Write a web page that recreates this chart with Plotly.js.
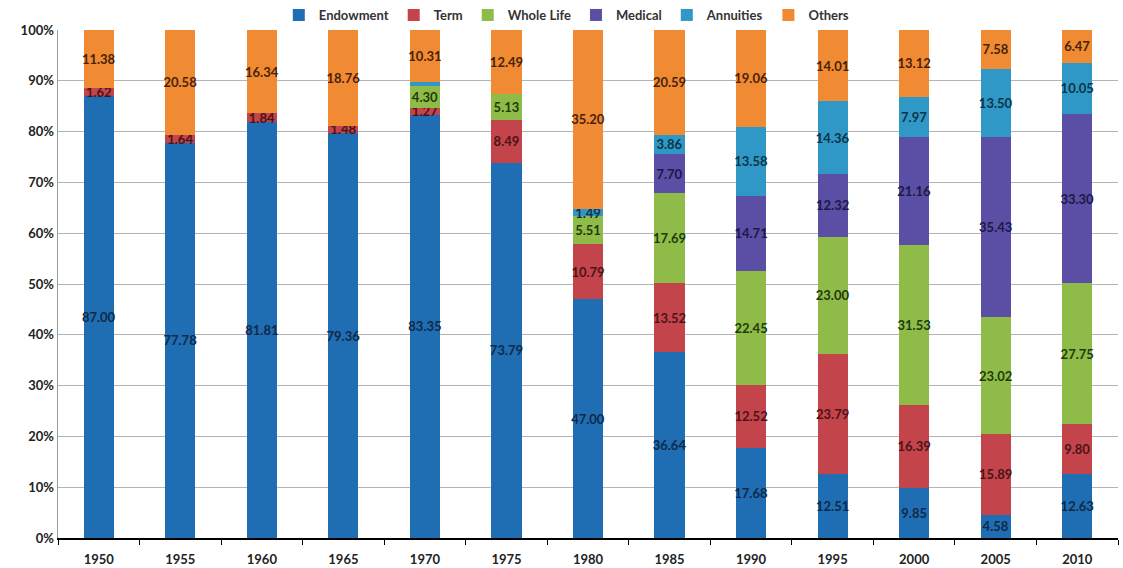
<!DOCTYPE html>
<html>
<head>
<meta charset="utf-8">
<script src="https://cdn.plot.ly/plotly-3.0.1.min.js"></script>
<style>
  html, body { margin: 0; padding: 0; background: #ffffff; }
  #chart { width: 1123px; height: 568px; }
</style>
</head>
<body>
<div id="chart"></div>
<script>
// Policy mix by year, shares in percent (100% stacked columns)
const years = ['1950', '1955', '1960', '1965', '1970', '1975', '1980',
               '1985', '1990', '1995', '2000', '2005', '2010'];

const endowment = [87.00, 77.78, 81.81, 79.36, 83.35, 73.79, 47.00, 36.64, 17.68, 12.51, 9.85, 4.58, 12.63];
const term      = [1.62, 1.64, 1.84, 1.48, 1.27, 8.49, 10.79, 13.52, 12.52, 23.79, 16.39, 15.89, 9.80];
const wholeLife = [null, null, null, null, 4.30, 5.13, 5.51, 17.69, 22.45, 23.00, 31.53, 23.02, 27.75];
const medical   = [null, null, null, null, null, null, null, 7.70, 14.71, 12.32, 21.16, 35.43, 33.30];
const annuities = [null, null, null, null, 0.77, null, 1.49, 3.86, 13.58, 14.36, 7.97, 13.50, 10.05];
const others    = [11.38, 20.58, 16.34, 18.76, 10.31, 12.49, 35.20, 20.59, 19.06, 14.01, 13.12, 7.58, 6.47];

// segments too thin to carry a printed value
const unlabeled = { 'Annuities': ['1970'] };

const series = [
  { name: 'Endowment',  values: endowment, color: '#1f6db3', label: '#102a48' },
  { name: 'Term',       values: term,      color: '#c4444b', label: '#4a1416' },
  { name: 'Whole Life', values: wholeLife, color: '#8fbc48', label: '#1f3a0c' },
  { name: 'Medical',    values: medical,   color: '#5a4ea5', label: '#1b1946' },
  { name: 'Annuities',  values: annuities, color: '#2f98c6', label: '#0c3446' },
  { name: 'Others',     values: others,    color: '#f08a33', label: '#4a2208' }
];

const traces = series.map(s => ({
  type: 'bar',
  name: s.name,
  x: years,
  y: s.values,
  marker: { color: s.color, line: { width: 0 } },
  text: s.values.map((v, i) => {
    if (v === null) return '';
    const skip = unlabeled[s.name] || [];
    return skip.includes(years[i]) ? '' : v.toFixed(2);
  }),
  texttemplate: '%{text}',
  textposition: 'inside',
  insidetextanchor: 'middle',
  textangle: 0,
  constraintext: 'none',
  insidetextfont: { family: 'Lato, "Liberation Sans", sans-serif', size: 13, color: s.label, weight: 'bold' },
  hoverinfo: 'name+y'
}));

const layout = {
  width: 1123,
  height: 568,
  margin: { l: 58, r: 5, t: 30, b: 30, autoexpand: false },
  paper_bgcolor: '#ffffff',
  plot_bgcolor: '#ffffff',
  barmode: 'stack',
  barnorm: 'percent',
  bargap: 0.63,
  uniformtext: { mode: 'show', minsize: 13 },
  font: { family: 'Lato, "Liberation Sans", sans-serif', size: 13, color: '#222222', weight: 'bold' },
  showlegend: true,
  legend: {
    orientation: 'h',
    x: 0.48, xanchor: 'center',
    yref: 'container',
    y: 1.0, yanchor: 'top',
    font: { size: 13, color: '#333333', weight: 'bold' },
    itemwidth: 30,
    tracegroupgap: 0,
    traceorder: 'normal',
    bgcolor: 'rgba(0,0,0,0)'
  },
  xaxis: {
    type: 'category',
    tickson: 'boundaries',
    ticks: 'outside',
    ticklen: 5,
    tickcolor: '#000000',
    ticklabelstandoff: 8,
    showgrid: false,
    showline: true,
    linecolor: '#000000',
    linewidth: 2,
    tickfont: { size: 13, color: '#222222', weight: 'bold' }
  },
  yaxis: {
    range: [0, 100],
    dtick: 10,
    ticksuffix: '%',
    showgrid: true,
    gridcolor: '#b4b4b4',
    gridwidth: 1,
    zeroline: false,
    showline: true,
    linecolor: '#9a9a9a',
    linewidth: 1.5,
    ticks: '',
    tickfont: { size: 13, color: '#222222', weight: 'bold' }
  }
};

Plotly.newPlot('chart', traces, layout, { displayModeBar: false, staticPlot: true });
</script>
</body>
</html>
